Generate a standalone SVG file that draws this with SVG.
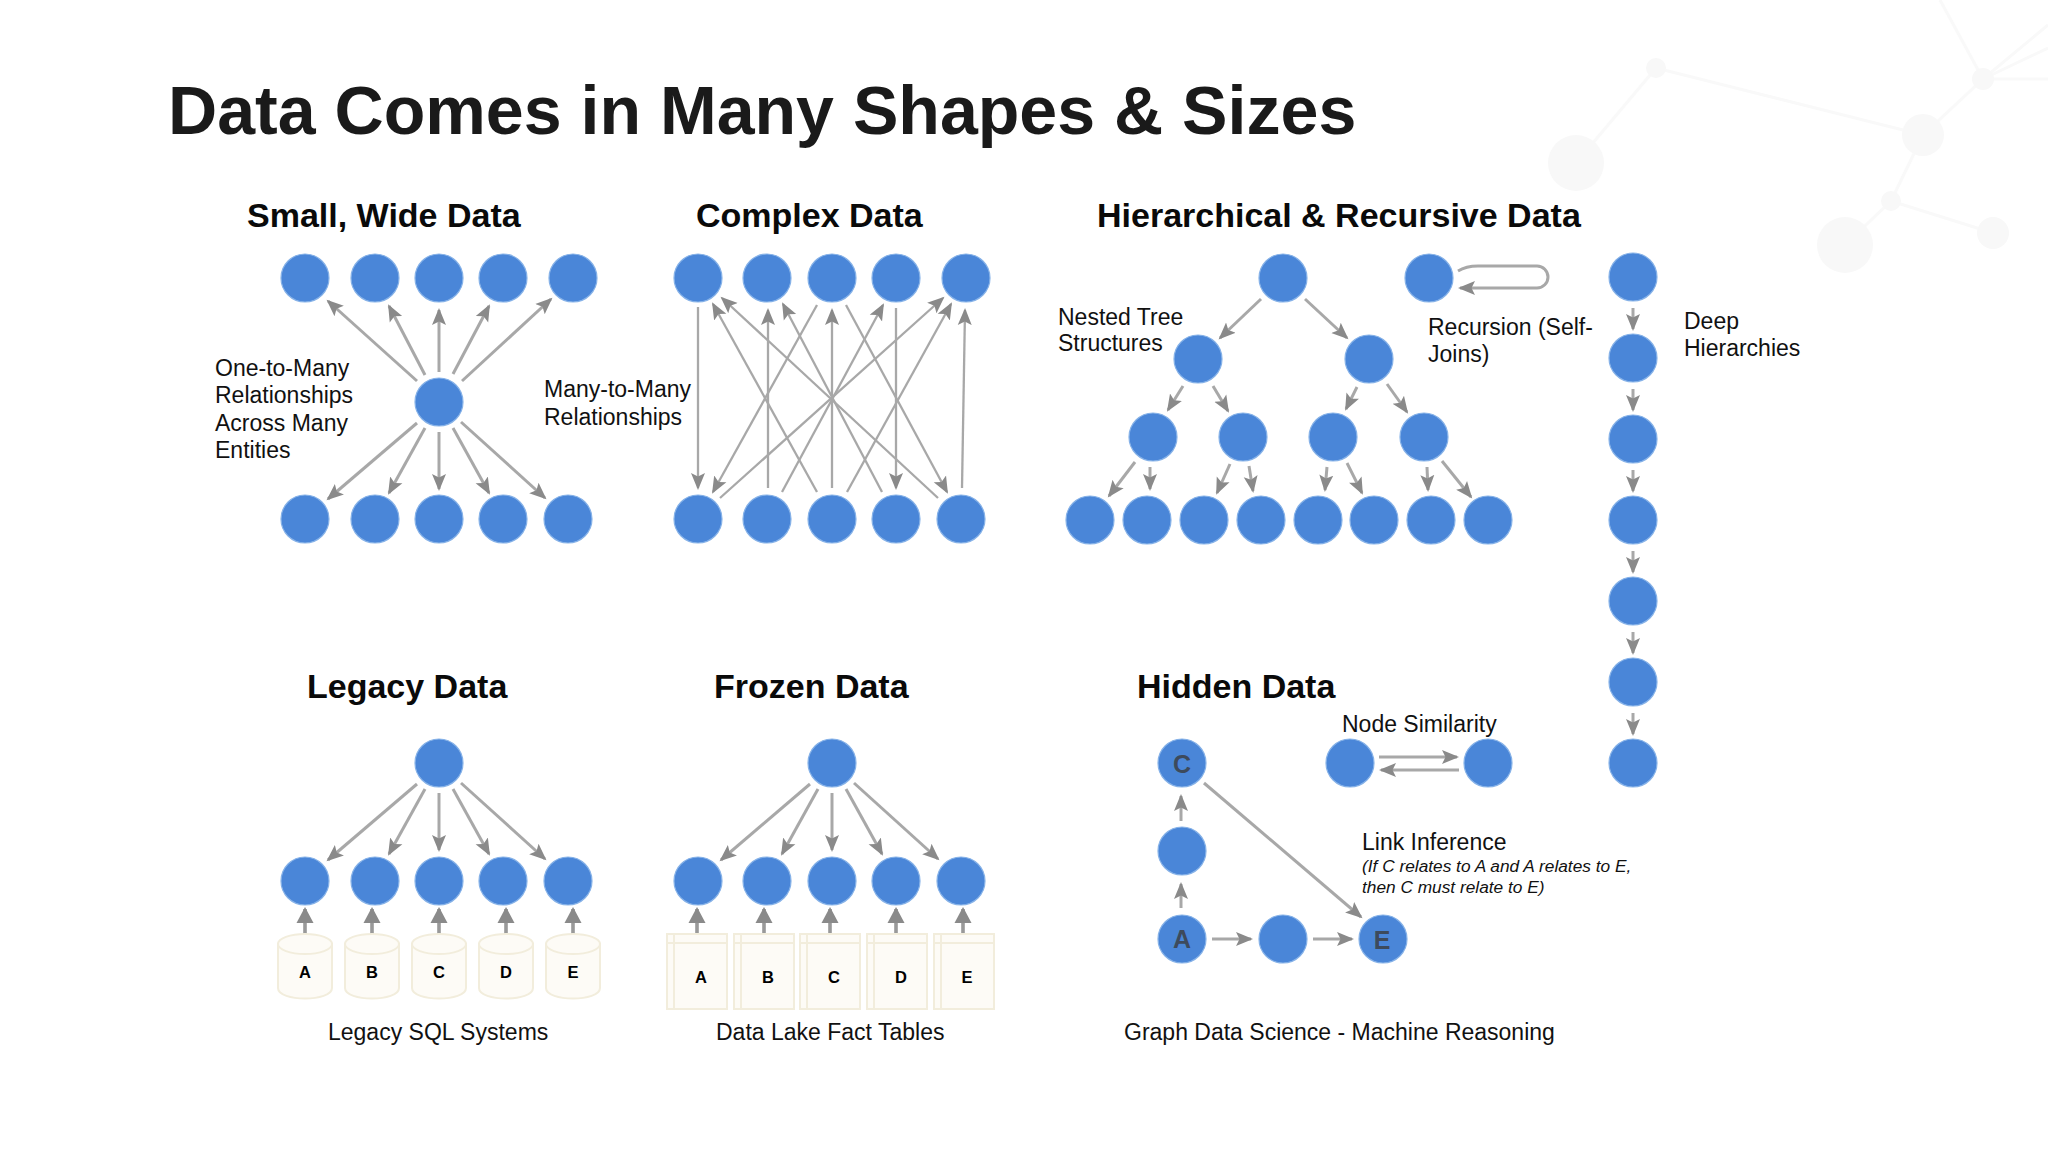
<svg xmlns="http://www.w3.org/2000/svg" width="2048" height="1152" viewBox="0 0 2048 1152">
<style>
text{font-family:"Liberation Sans",Arial,sans-serif;fill:#111}
.title{font-size:68.1px;font-weight:700;fill:#1a1a1a}
.h{font-size:34px;font-weight:700;fill:#0a0a0a}
.l{font-size:23px}
.i{font-size:17.3px;font-style:italic}
.k{font-size:16.5px;font-weight:700;text-anchor:middle;fill:#000}
.g{font-size:25px;font-weight:700;text-anchor:middle;fill:#3d4a5c}
.n{fill:#4a86d8;stroke:#86b2e8;stroke-width:1.2}
.c line,.c path{stroke:#a8a8a8;stroke-width:3;fill:none;marker-end:url(#a)}
.c .t{stroke-width:2.3}
.c .f{stroke:#999;stroke-width:3.6;marker-end:url(#b)}
.s{fill:#fdfbf6;stroke:#f2eddc;stroke-width:2}
.bg circle{fill:#f8f8f8}
.bg line{stroke:#f9f9f9;stroke-width:3}
</style>
<defs>
<marker id="a" markerUnits="userSpaceOnUse" markerWidth="20" markerHeight="18" refX="15" refY="9" orient="auto"><path d="M0 2L17 9L0 16L3.5 9Z" fill="#8a8a8a"/></marker>
<marker id="b" markerUnits="userSpaceOnUse" markerWidth="18" markerHeight="18" refX="14" refY="9" orient="auto"><path d="M0 .5L16 9L0 17.5Z" fill="#8a8a8a"/></marker>
</defs>
<rect width="2048" height="1152" fill="#fff"/>
<g class="bg">
<line x1="1576" y1="163" x2="1656" y2="68"/><line x1="1656" y1="68" x2="1923" y2="135"/><line x1="1923" y1="135" x2="1983" y2="79"/><line x1="1923" y1="135" x2="1891" y2="201"/><line x1="1891" y1="201" x2="1845" y2="245"/><line x1="1891" y1="201" x2="1993" y2="233"/><line x1="1983" y1="79" x2="1940" y2="0"/><line x1="1983" y1="79" x2="2048" y2="79"/><line x1="1983" y1="79" x2="2048" y2="25"/><line x1="1983" y1="79" x2="2048" y2="48"/>
<circle cx="1576" cy="163" r="28"/><circle cx="1656" cy="68" r="10"/><circle cx="1923" cy="135" r="21"/><circle cx="1983" cy="79" r="11"/><circle cx="1891" cy="201" r="10"/><circle cx="1845" cy="245" r="28"/><circle cx="1993" cy="233" r="16"/>
</g>
<text class="title" x="168" y="134">Data Comes in Many Shapes &amp; Sizes</text>
<text class="h" x="247" y="227">Small, Wide Data</text>
<text class="h" x="696" y="227">Complex Data</text>
<text class="h" x="1097" y="227">Hierarchical &amp; Recursive Data</text>
<text class="h" x="307" y="698">Legacy Data</text>
<text class="h" x="714" y="698">Frozen Data</text>
<text class="h" x="1137" y="698">Hidden Data</text>
<g class="c" id="connectors">
<line x1="417" y1="381" x2="328" y2="301"/><line x1="425" y1="375" x2="389" y2="306"/><line x1="439" y1="372" x2="439" y2="310"/><line x1="453" y1="374" x2="489" y2="306"/><line x1="462" y1="381" x2="551" y2="299"/>
<line x1="417" y1="423" x2="328" y2="499"/><line x1="425" y1="428" x2="389" y2="493"/><line x1="439" y1="432" x2="439" y2="489"/><line x1="453" y1="428" x2="489" y2="493"/><line x1="461" y1="422" x2="545" y2="498"/>
<g>
<line class="t" x1="698" y1="307" x2="698" y2="488"/><line class="t" x1="817" y1="492" x2="713" y2="304"/><line class="t" x1="938" y1="498" x2="722" y2="298"/><line class="t" x1="768" y1="488" x2="768" y2="310"/><line class="t" x1="882" y1="492" x2="783" y2="304"/><line class="t" x1="817" y1="305" x2="713" y2="492"/><line class="t" x1="832" y1="488" x2="832" y2="310"/><line class="t" x1="782" y1="492" x2="883" y2="305"/><line class="t" x1="720" y1="498" x2="943" y2="298"/><line class="t" x1="847" y1="492" x2="951" y2="304"/><line class="t" x1="846" y1="305" x2="947" y2="492"/><line class="t" x1="896" y1="308" x2="896" y2="488"/><line class="t" x1="962" y1="488" x2="965" y2="310"/>
</g>
<line x1="1261" y1="299" x2="1220" y2="338"/><line x1="1305" y1="299" x2="1347" y2="338"/>
<line x1="1183" y1="386" x2="1168" y2="410"/><line x1="1213" y1="386" x2="1228" y2="411"/><line x1="1357" y1="387" x2="1346" y2="409"/><line x1="1387" y1="384" x2="1407" y2="412"/>
<line x1="1135" y1="462" x2="1109" y2="496"/><line x1="1150" y1="467" x2="1150" y2="489"/><line x1="1230" y1="464" x2="1217" y2="493"/><line x1="1249" y1="466" x2="1253" y2="491"/><line x1="1327" y1="467" x2="1325" y2="490"/><line x1="1347" y1="463" x2="1362" y2="493"/><line x1="1427" y1="467" x2="1428" y2="490"/><line x1="1442" y1="461" x2="1471" y2="497"/>
<path d="M1458 271Q1466 266 1478 266H1537A11 11 0 0 1 1537 288H1460"/>
<line x1="1633" y1="308" x2="1633" y2="329"/><line x1="1633" y1="389" x2="1633" y2="410"/><line x1="1633" y1="470" x2="1633" y2="491"/><line x1="1633" y1="551" x2="1633" y2="572"/><line x1="1633" y1="632" x2="1633" y2="653"/><line x1="1633" y1="713" x2="1633" y2="734"/>
<line x1="417" y1="784" x2="328" y2="860"/><line x1="425" y1="789" x2="389" y2="854"/><line x1="439" y1="793" x2="439" y2="850"/><line x1="453" y1="789" x2="489" y2="854"/><line x1="461" y1="783" x2="545" y2="859"/>
<line x1="810" y1="784" x2="721" y2="860"/><line x1="818" y1="789" x2="782" y2="854"/><line x1="832" y1="793" x2="832" y2="850"/><line x1="846" y1="789" x2="882" y2="854"/><line x1="854" y1="783" x2="938" y2="859"/>
<line class="f" x1="305" y1="934" x2="305" y2="909"/><line class="f" x1="372" y1="934" x2="372" y2="909"/><line class="f" x1="439" y1="934" x2="439" y2="909"/><line class="f" x1="506" y1="934" x2="506" y2="909"/><line class="f" x1="573" y1="934" x2="573" y2="909"/>
<line class="f" x1="697" y1="934" x2="697" y2="909"/><line class="f" x1="764" y1="934" x2="764" y2="909"/><line class="f" x1="830" y1="934" x2="830" y2="909"/><line class="f" x1="896" y1="934" x2="896" y2="909"/><line class="f" x1="963" y1="934" x2="963" y2="909"/>
<line x1="1379" y1="757" x2="1457" y2="757"/><line x1="1459" y1="770" x2="1381" y2="770"/>
<line x1="1204" y1="783" x2="1361" y2="917"/><line x1="1181" y1="908" x2="1181" y2="884"/><line x1="1181" y1="821" x2="1181" y2="796"/><line x1="1212" y1="939" x2="1251" y2="939"/><line x1="1313" y1="939" x2="1352" y2="939"/>
</g>
<g id="small-wide">
<g id="sw-t1"><circle class="n" cx="305" cy="278" r="24"/></g><g id="sw-t2"><circle class="n" cx="375" cy="278" r="24"/></g><g id="sw-t3"><circle class="n" cx="439" cy="278" r="24"/></g><g id="sw-t4"><circle class="n" cx="503" cy="278" r="24"/></g><g id="sw-t5"><circle class="n" cx="573" cy="278" r="24"/></g>
<g id="sw-c"><circle class="n" cx="439" cy="402" r="24"/></g>
<g id="sw-b1"><circle class="n" cx="305" cy="519" r="24"/></g><g id="sw-b2"><circle class="n" cx="375" cy="519" r="24"/></g><g id="sw-b3"><circle class="n" cx="439" cy="519" r="24"/></g><g id="sw-b4"><circle class="n" cx="503" cy="519" r="24"/></g><g id="sw-b5"><circle class="n" cx="568" cy="519" r="24"/></g>
</g>
<g id="complex">
<g id="cx-t1"><circle class="n" cx="698" cy="278" r="24"/></g><g id="cx-t2"><circle class="n" cx="767" cy="278" r="24"/></g><g id="cx-t3"><circle class="n" cx="832" cy="278" r="24"/></g><g id="cx-t4"><circle class="n" cx="896" cy="278" r="24"/></g><g id="cx-t5"><circle class="n" cx="966" cy="278" r="24"/></g>
<g id="cx-b1"><circle class="n" cx="698" cy="519" r="24"/></g><g id="cx-b2"><circle class="n" cx="767" cy="519" r="24"/></g><g id="cx-b3"><circle class="n" cx="832" cy="519" r="24"/></g><g id="cx-b4"><circle class="n" cx="896" cy="519" r="24"/></g><g id="cx-b5"><circle class="n" cx="961" cy="519" r="24"/></g>
</g>
<g id="tree">
<g id="tr-root"><circle class="n" cx="1283" cy="278" r="24"/></g>
<g id="tr-2a"><circle class="n" cx="1198" cy="359" r="24"/></g><g id="tr-2b"><circle class="n" cx="1369" cy="359" r="24"/></g>
<g id="tr-3a"><circle class="n" cx="1153" cy="437" r="24"/></g><g id="tr-3b"><circle class="n" cx="1243" cy="437" r="24"/></g><g id="tr-3c"><circle class="n" cx="1333" cy="437" r="24"/></g><g id="tr-3d"><circle class="n" cx="1424" cy="437" r="24"/></g>
<g id="tr-4a"><circle class="n" cx="1090" cy="520" r="24"/></g><g id="tr-4b"><circle class="n" cx="1147" cy="520" r="24"/></g><g id="tr-4c"><circle class="n" cx="1204" cy="520" r="24"/></g><g id="tr-4d"><circle class="n" cx="1261" cy="520" r="24"/></g><g id="tr-4e"><circle class="n" cx="1318" cy="520" r="24"/></g><g id="tr-4f"><circle class="n" cx="1374" cy="520" r="24"/></g><g id="tr-4g"><circle class="n" cx="1431" cy="520" r="24"/></g><g id="tr-4h"><circle class="n" cx="1488" cy="520" r="24"/></g>
</g>
<g id="rec"><circle class="n" cx="1429" cy="278" r="24"/></g>
<g id="deep">
<g id="dp-1"><circle class="n" cx="1633" cy="277" r="24"/></g><g id="dp-2"><circle class="n" cx="1633" cy="358" r="24"/></g><g id="dp-3"><circle class="n" cx="1633" cy="439" r="24"/></g><g id="dp-4"><circle class="n" cx="1633" cy="520" r="24"/></g><g id="dp-5"><circle class="n" cx="1633" cy="601" r="24"/></g><g id="dp-6"><circle class="n" cx="1633" cy="682" r="24"/></g><g id="dp-7"><circle class="n" cx="1633" cy="763" r="24"/></g>
</g>
<g id="legacy">
<g id="lg-root"><circle class="n" cx="439" cy="763" r="24"/></g>
<g id="lg-1"><circle class="n" cx="305" cy="881" r="24"/></g><g id="lg-2"><circle class="n" cx="375" cy="881" r="24"/></g><g id="lg-3"><circle class="n" cx="439" cy="881" r="24"/></g><g id="lg-4"><circle class="n" cx="503" cy="881" r="24"/></g><g id="lg-5"><circle class="n" cx="568" cy="881" r="24"/></g>
<g id="db-a"><path class="s" d="M278 944V988C278 1002 332 1002 332 988V944Z"/><ellipse class="s" cx="305" cy="944" rx="27" ry="10"/><text class="k" x="305" y="978">A</text></g>
<g id="db-b"><path class="s" d="M345 944V988C345 1002 399 1002 399 988V944Z"/><ellipse class="s" cx="372" cy="944" rx="27" ry="10"/><text class="k" x="372" y="978">B</text></g>
<g id="db-c"><path class="s" d="M412 944V988C412 1002 466 1002 466 988V944Z"/><ellipse class="s" cx="439" cy="944" rx="27" ry="10"/><text class="k" x="439" y="978">C</text></g>
<g id="db-d"><path class="s" d="M479 944V988C479 1002 533 1002 533 988V944Z"/><ellipse class="s" cx="506" cy="944" rx="27" ry="10"/><text class="k" x="506" y="978">D</text></g>
<g id="db-e"><path class="s" d="M546 944V988C546 1002 600 1002 600 988V944Z"/><ellipse class="s" cx="573" cy="944" rx="27" ry="10"/><text class="k" x="573" y="978">E</text></g>
</g>
<g id="frozen">
<g id="fz-root"><circle class="n" cx="832" cy="763" r="24"/></g>
<g id="fz-1"><circle class="n" cx="698" cy="881" r="24"/></g><g id="fz-2"><circle class="n" cx="767" cy="881" r="24"/></g><g id="fz-3"><circle class="n" cx="832" cy="881" r="24"/></g><g id="fz-4"><circle class="n" cx="896" cy="881" r="24"/></g><g id="fz-5"><circle class="n" cx="961" cy="881" r="24"/></g>
<g id="tb-a"><rect class="s" x="667" y="934" width="60" height="75"/><path class="s" d="M667 943H727M674 934V1009"/><text class="k" x="701" y="983">A</text></g>
<g id="tb-b"><rect class="s" x="734" y="934" width="60" height="75"/><path class="s" d="M734 943H794M741 934V1009"/><text class="k" x="768" y="983">B</text></g>
<g id="tb-c"><rect class="s" x="800" y="934" width="60" height="75"/><path class="s" d="M800 943H860M807 934V1009"/><text class="k" x="834" y="983">C</text></g>
<g id="tb-d"><rect class="s" x="867" y="934" width="60" height="75"/><path class="s" d="M867 943H927M874 934V1009"/><text class="k" x="901" y="983">D</text></g>
<g id="tb-e"><rect class="s" x="934" y="934" width="60" height="75"/><path class="s" d="M934 943H994M941 934V1009"/><text class="k" x="967" y="983">E</text></g>
</g>
<g id="hidden">
<g id="hd-c"><circle class="n" cx="1182" cy="763" r="24"/><text class="g" x="1182" y="773">C</text></g>
<g id="hd-m"><circle class="n" cx="1182" cy="851" r="24"/></g>
<g id="hd-a"><circle class="n" cx="1182" cy="939" r="24"/><text class="g" x="1182" y="948">A</text></g>
<g id="hd-n"><circle class="n" cx="1283" cy="939" r="24"/></g>
<g id="hd-e"><circle class="n" cx="1383" cy="939" r="24"/><text class="g" x="1382" y="949">E</text></g>
<g id="ns-1"><circle class="n" cx="1350" cy="763" r="24"/></g>
<g id="ns-2"><circle class="n" cx="1488" cy="763" r="24"/></g>
</g>
<text class="l" x="215" y="376">One-to-Many</text><text class="l" x="215" y="403">Relationships</text><text class="l" x="215" y="431">Across Many</text><text class="l" x="215" y="458">Entities</text>
<text class="l" x="544" y="397">Many-to-Many</text><text class="l" x="544" y="425">Relationships</text>
<text class="l" x="1058" y="325">Nested Tree</text><text class="l" x="1058" y="351">Structures</text>
<text class="l" x="1428" y="335">Recursion (Self-</text><text class="l" x="1428" y="362">Joins)</text>
<text class="l" x="1684" y="329">Deep</text><text class="l" x="1684" y="356">Hierarchies</text>
<text class="l" x="1342" y="732">Node Similarity</text>
<text class="l" x="1362" y="850">Link Inference</text>
<text class="i" x="1362" y="872">(If C relates to A and A relates to E,</text><text class="i" x="1362" y="893">then C must relate to E)</text>
<text class="l" x="328" y="1040">Legacy SQL Systems</text>
<text class="l" x="716" y="1040">Data Lake Fact Tables</text>
<text class="l" x="1124" y="1040">Graph Data Science - Machine Reasoning</text>
</svg>
